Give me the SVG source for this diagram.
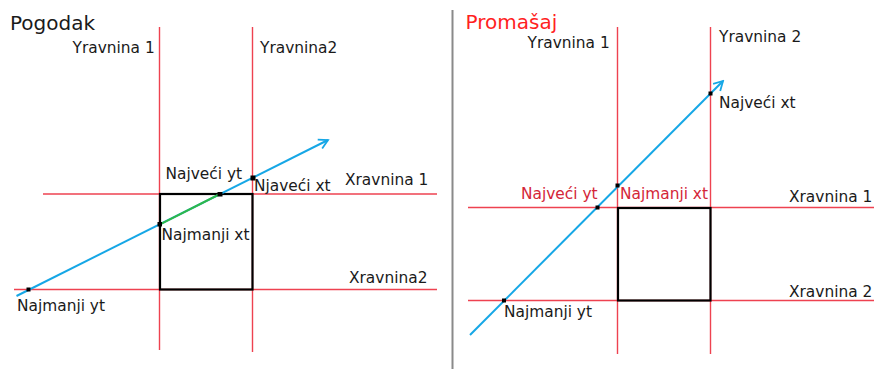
<svg xmlns="http://www.w3.org/2000/svg" width="874" height="369" viewBox="0 0 874 369">
  <defs>
    <style>
      text { font-family: "DejaVu Sans", "Liberation Sans", sans-serif; font-size: 15.4px; fill: #1a1a1a; }
      .title { font-size: 20px; }
      .red-t { fill: #d42638; }
      .plane { stroke: #ee4250; stroke-width: 1.4; fill: none; }
      .box { stroke: #000; stroke-width: 2.2; fill: none; }
      .ray { stroke: #16a7e6; stroke-width: 2; fill: none; }
      .hit { stroke: #2eb84a; stroke-width: 2; fill: none; }
      .pt { fill: #000; }
    </style>
    <marker id="arr" markerUnits="userSpaceOnUse" markerWidth="14" markerHeight="14" viewBox="0 0 14 14" refX="12" refY="7" orient="auto">
      <path d="M3,2 L12,7 L3,12" fill="none" stroke="#16a7e6" stroke-width="1.8"/>
    </marker>
  </defs>
  <rect width="874" height="369" fill="#fff"/>

  <!-- Left panel: Pogodak -->
  <g id="pogodak">
    <text class="title" x="10" y="30">Pogodak</text>
    <g id="pogodak-planes">
      <line class="plane" x1="159.5" y1="27" x2="159.5" y2="350"/>
      <line class="plane" x1="252.5" y1="27" x2="252.5" y2="352"/>
      <line class="plane" x1="43" y1="194" x2="437" y2="194"/>
      <line class="plane" x1="14" y1="289.5" x2="437" y2="289.5"/>
    </g>
    <rect id="pogodak-box" class="box" x="160" y="194" width="92.5" height="95.5"/>
    <g id="pogodak-ray">
      <line class="ray" x1="16.5" y1="296" x2="328" y2="140" marker-end="url(#arr)"/>
      <line class="hit" x1="160" y1="224.3" x2="220" y2="194"/>
    </g>
    <g id="pogodak-points">
      <rect class="pt" x="26.5" y="287.5" width="4" height="4"/>
      <rect class="pt" x="157.5" y="222" width="4.5" height="4.5"/>
      <rect class="pt" x="217.5" y="192" width="5" height="4.5"/>
      <rect class="pt" x="250.5" y="175.5" width="5" height="5"/>
    </g>
    <g id="pogodak-labels">
      <text x="72.5" y="52.5">Yravnina 1</text>
      <text x="260" y="52.5">Yravnina2</text>
      <text x="345" y="185">Xravnina 1</text>
      <text x="349" y="282.5">Xravnina2</text>
      <text x="165.5" y="179">Najveći yt</text>
      <text x="254" y="190.5">Njaveći xt</text>
      <text x="161.5" y="240">Najmanji xt</text>
      <text x="17" y="311">Najmanji yt</text>
    </g>
  </g>

  <!-- Divider -->
  <line id="divider" x1="452.5" y1="10" x2="452.5" y2="369" stroke="#8a8a8a" stroke-width="2"/>

  <!-- Right panel: Promasaj -->
  <g id="promasaj">
    <text class="title" x="465.5" y="28.5" style="fill:#ff1f1f">Promašaj</text>
    <g id="promasaj-planes">
      <line class="plane" x1="617.5" y1="27" x2="617.5" y2="354"/>
      <line class="plane" x1="710.5" y1="27" x2="710.5" y2="354"/>
      <line class="plane" x1="468" y1="207.5" x2="874" y2="207.5"/>
      <line class="plane" x1="468" y1="300.5" x2="874" y2="300.5"/>
    </g>
    <rect id="promasaj-box" class="box" x="618" y="208" width="92.5" height="92.5"/>
    <g id="promasaj-ray">
      <line class="ray" x1="470" y1="335" x2="723" y2="81" marker-end="url(#arr)"/>
    </g>
    <g id="promasaj-points">
      <rect class="pt" x="502" y="298.5" width="4" height="4"/>
      <rect class="pt" x="595.5" y="205.5" width="4" height="4"/>
      <rect class="pt" x="615.5" y="183.5" width="4" height="4"/>
      <rect class="pt" x="708.5" y="91.5" width="4" height="4"/>
    </g>
    <g id="promasaj-labels">
      <text x="527.5" y="47.5">Yravnina 1</text>
      <text x="719" y="41.5">Yravnina 2</text>
      <text x="789" y="202">Xravnina 1</text>
      <text x="789" y="296.5">Xravnina 2</text>
      <text class="red-t" x="521" y="199">Najveći yt</text>
      <text class="red-t" x="620" y="199">Najmanji xt</text>
      <text x="719" y="108">Najveći xt</text>
      <text x="504" y="316.5">Najmanji yt</text>
    </g>
  </g>
</svg>
